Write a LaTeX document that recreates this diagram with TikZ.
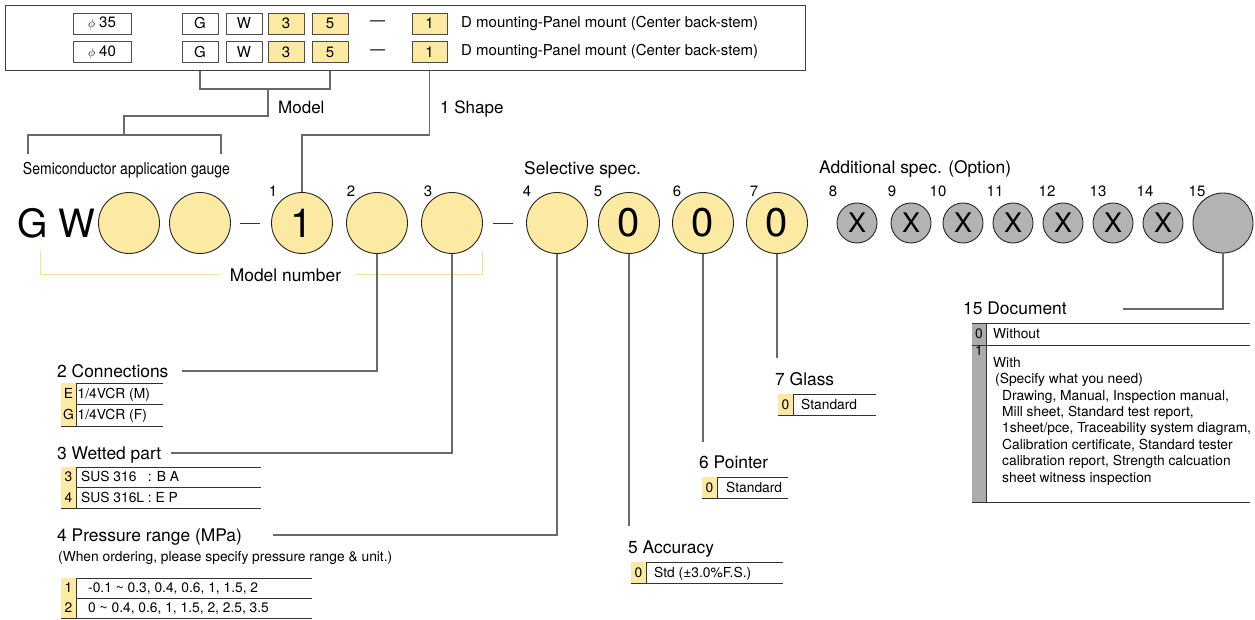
\documentclass[tikz,border=0pt]{standalone}
\usepackage{fontspec}
\setmainfont{TeX Gyre Heros}
\newfontfamily\narrowfont[FakeStretch=0.86]{TeX Gyre Heros}
\usetikzlibrary{positioning}
\definecolor{myyellow}{RGB}{253,234,162}
\definecolor{mybrk}{RGB}{246,224,140}
\definecolor{mygray}{RGB}{179,179,179}
\definecolor{mycol}{RGB}{172,172,172}
\definecolor{myline}{RGB}{105,105,105}

\newcommand{\fs}[1]{\fontsize{#1}{#1}\selectfont}
% one row of an option table: name, gap, left, split, right, top, bottom, code, text
\newcommand{\optrow}[9]{%
  \fill[myyellow] (#3,#6) rectangle (#4,#7);
  \draw[tabline] (#3,#7) -- (#5,#7) (#4,#6) -- (#4,#7);
  \node[codetxt] (#1c) at ({(#3+#4)/2},{(#6+#7)/2}) {#8};
  \node[itemtxt] (#1t) at ({#4+#2},{(#6+#7)/2}) {#9};
}

\begin{document}
\begin{tikzpicture}[x=1pt,y=-1pt,
  lbl/.style={inner sep=0,anchor=west,text height=12.5pt,text depth=0pt,font={\fs{17.4}}},
  num/.style={inner sep=0,text height=10.8pt,text depth=0pt,font={\fs{15}}},
  cell/.style={draw=black!70,line width=0.8pt,minimum width=36pt,minimum height=21pt,inner sep=0,font={\fs{15}}},
  plain/.style={inner sep=0,font={\fs{15}}},
  ycirc/.style={circle,draw=black!85,line width=0.9pt,fill=myyellow,minimum size=61pt,inner sep=0,font={\fs{40}}},
  gcirc/.style={circle,draw=black!85,line width=0.9pt,fill=mygray,minimum size=40pt,inner sep=0,font={\fs{27}}},
  codetxt/.style={inner sep=0,text height=9.9pt,text depth=0pt,font={\fs{13.8}}},
  itemtxt/.style={inner sep=0,anchor=west,text height=9.9pt,text depth=0pt,font={\fs{13.8}}},
  conn/.style={draw=myline,line width=1.2pt},
  ybrk/.style={draw=mybrk,line width=1pt},
  tabline/.style={draw=black!80,line width=0.9pt}]

  \useasboundingbox (0,0) rectangle (1255,620);

  % model table at the top
  \node[draw=black!75,line width=1pt,minimum width=800pt,minimum height=65pt,inner sep=0,anchor=north west] (frame) at (5,5) {};
  \foreach \r/\y/\d in {1/23.5/35,2/52/40}{
    \node[cell,minimum width=58pt] (tphi\r) at (102,\y) {{\fs{13}$\phi$}\ \d};
    \node[cell] (tG\r) at (200,\y) {G};
    \node[cell] (tW\r) at (244,\y) {W};
    \node[cell,fill=myyellow] (tthree\r) at (286,\y) {3};
    \node[cell,fill=myyellow] (tfive\r) at (330,\y) {5};
    \node[plain] (tdash\r) at (377.5,\y) {---};
    \node[cell,fill=myyellow,minimum width=35pt] (tone\r) at (429.5,\y) {1};
    \node[plain,anchor=west] (tdesc\r) at (461,\y) {D mounting-Panel mount (Center back-stem)};
  }

  % brackets under the table
  \draw[conn] (tG2.south |- frame.south) -- ++(0,18) -| (tfive2.south |- frame.south);
  \draw[conn] (268,88) -- (268,116) -| (124,135);
  \node[lbl,font={\fs{17}}] (model) at (278,107) {Model};
  \draw[conn] (28,154) |- (221,135) -- (221,154);
  \node[inner sep=0,text height=11.5pt,text depth=0pt,font={\narrowfont\fs{16.3}}] (semi) at (126.5,169) {Semiconductor application gauge};

  % code circles
  \node[lbl,font={\fs{39}},text height=28pt] (gw) at (17,224) {G W};
  \node[ycirc] (m1) at (129,223) {};
  \node[ycirc] (m2) at (200,223) {};
  \foreach \n/\x/\lx/\t in {1/302/273/1,2/377/351/{},3/452/428/{},4/557/527/{},5/629/598/0,6/703/677/0,7/777/754/0}{
    \node[ycirc] (c\n) at (\x,223) {\t};
    \node[num] (n\n) at (\lx,191) {\n};
  }
  \foreach \n/\x/\lx in {8/857/833,9/911/892,10/963/938,11/1013/995,12/1063/1047,13/1113/1098,14/1163/1145}{
    \node[gcirc] (c\n) at (\x,223) {X};
    \node[num] (n\n) at (\lx,191) {\n};
  }
  \node[gcirc,minimum size=60pt] (c15) at (1223,223) {};
  \node[num] (n15) at (1197,191) {15};

  \draw[black!80,line width=0.9pt,shorten <=9pt,shorten >=11pt] (m2.east) -- (c1.west);
  \draw[black!80,line width=0.9pt,shorten <=10pt,shorten >=13pt] (c3.east) -- (c4.west);

  \node[lbl] (selspec) at (524,168) {Selective spec.};
  \node[lbl] (addspec) at (819,167) {Additional spec. (Option)};

  % model number bracket
  \node[lbl,anchor=center] (mnum) at (285.5,275) {Model number};
  \draw[ybrk] ([xshift=-11pt]mnum.west) -| (40,251);
  \draw[ybrk] ([xshift=15pt]mnum.east) -| (482,251);

  % 1 shape
  \draw[conn] (tone2.south |- frame.south) -- ++(0,64) -| (c1.north);
  \node[lbl,font={\fs{17}}] (shape) at (440,107) {1 Shape};

  % 2 connections
  \node[lbl] (conlbl) at (57,371) {2 Connections};
  \draw[conn] ([xshift=13pt]conlbl.east) -| (c2.south);
  \draw[tabline] (61,383) -- (163,383);
  \optrow{conE}{1.5}{61}{76}{163}{383}{404}{E}{1/4VCR (M)}
  \optrow{conG}{1.5}{61}{76}{163}{404}{426}{G}{1/4VCR (F)}

  % 3 wetted part
  \node[lbl] (wetlbl) at (57,453) {3 Wetted part};
  \draw[conn] ([xshift=10pt]wetlbl.east) -| (c3.south);
  \draw[tabline] (61,467) -- (261,467);
  \optrow{wet3}{5}{61}{76}{261}{467}{487}{3}{SUS 316\phantom{L} : B A}
  \optrow{wet4}{5}{61}{76}{261}{487}{508}{4}{SUS 316L : E P}

  % 4 pressure range
  \node[lbl] (preslbl) at (57,535) {4 Pressure range (MPa)};
  \draw[conn] ([xshift=31pt]preslbl.east) -| (c4.south);
  \node[itemtxt] (presnote) at (58,557) {(When ordering, please specify pressure range \& unit.)};
  \draw[tabline] (61,578) -- (312,578);
  \optrow{pres1}{12}{61}{76}{312}{578}{598}{1}{-0.1 \textasciitilde{} 0.3, 0.4, 0.6, 1, 1.5, 2}
  \optrow{pres2}{12}{61}{76}{312}{598}{618}{2}{0 \textasciitilde{} 0.4, 0.6, 1, 1.5, 2, 2.5, 3.5}

  % 5 accuracy
  \coordinate (c5end) at (c5.south |- 0,526);
  \draw[conn] (c5.south) -- (c5end);
  \node[lbl] (acclbl) at (628,547) {5 Accuracy};
  \draw[tabline] (631,562) -- (783,562);
  \optrow{acc0}{8}{631}{646}{783}{562}{583}{0}{Std (±3.0\%F.S.)}

  % 6 pointer
  \coordinate (c6end) at (c6.south |- 0,442);
  \draw[conn] (c6.south) -- (c6end);
  \node[lbl] (ptrlbl) at (699,462) {6 Pointer};
  \draw[tabline] (702,477) -- (788,477);
  \optrow{ptr0}{9}{702}{717}{788}{477}{498}{0}{Standard}

  % 7 glass
  \coordinate (c7end) at (c7.south |- 0,358);
  \draw[conn] (c7.south) -- (c7end);
  \node[lbl] (glslbl) at (775,379) {7 Glass};
  \draw[tabline] (778,394) -- (876,394);
  \optrow{gls0}{8}{778}{793}{876}{394}{415}{0}{Standard}

  % 15 document
  \node[lbl] (doclbl) at (963,308) {15 Document};
  \coordinate (docend) at (1123,309);
  \draw[conn] (c15.south) |- (docend);
  \fill[mycol] (972,323) rectangle (986,502);
  \draw[tabline] (972,323) -- (1250,323) (972,345) -- (1250,345) (972,502) -- (1250,502) (986,323) -- (986,502);
  \node[codetxt] (doc0c) at (979,334) {0};
  \node[itemtxt] (doc0t) at (993,334) {Without};
  \node[codetxt] (doc1c) at (979,351) {1};
  \node[inner sep=0,anchor=north west,align=left,font={\fontsize{13.8}{16.4}\selectfont}] (doc1t) at (993,357)
    {With\\\hspace*{2pt}(Specify what you need)\\\hspace*{9pt}Drawing, Manual, Inspection manual,\\
     \hspace*{9pt}Mill sheet, Standard test report,\\\hspace*{9pt}1sheet/pce, Traceability system diagram,\\
     \hspace*{9pt}Calibration certificate, Standard tester\\\hspace*{9pt}calibration report, Strength calcuation\\
     \hspace*{9pt}sheet witness inspection};

\end{tikzpicture}
\end{document}
